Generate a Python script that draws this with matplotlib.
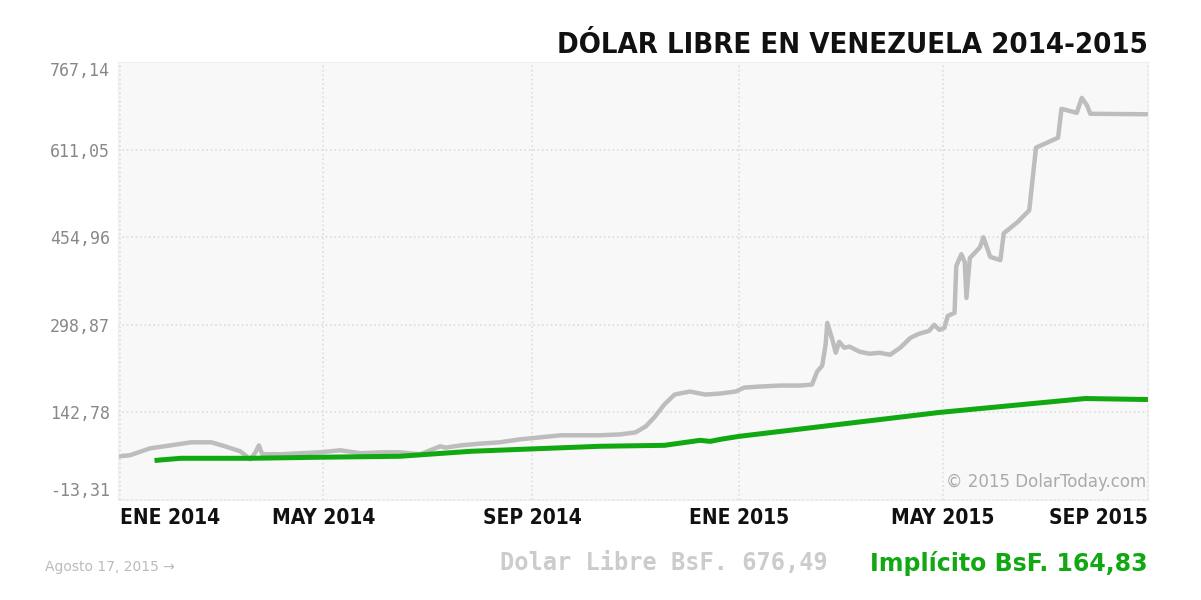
import matplotlib
matplotlib.use("Agg")
import matplotlib.pyplot as plt

# days since 2014-01-01
libre_days = [0,6,18,30,42,54,62,71,77,80,82,84,95,118,130,142,154,165,177,189,192,201,212,224,236,248,260,271,283,295,304,310,315,321,327,336,345,354,363,368,377,389,401,408,411,414,416,417,420,422,424,427,430,436,442,448,454,460,466,471,477,480,483,486,488,492,493,496,498,499,501,507,509,513,519,521,529,536,540,553,555,564,567,570,572,606]
libre_vals = [64.6,66.4,78.8,84,89.5,89.5,82.4,73.5,59.3,71.7,84,68.2,68.2,71.7,75.3,70,71.7,71.7,68.2,82.4,80,84,87,89.5,94.8,98.4,102,102,102,103.6,107.2,117.8,133.8,156.9,174.6,180,174.6,176.4,180,187,188.8,190.6,190.6,192.4,215.4,226,263.4,302.3,272.2,249.1,268.6,258,260,250.9,247.3,249,245.5,258,275.7,282.8,288.1,298.8,289.9,293.4,314.7,320.1,403.5,424.7,410.5,346.7,417.6,437.1,454.9,420,414.1,462,481.5,502.8,614.5,632.3,683.7,676.6,703.2,690,674.9,674.0]
impl_days = [22,36,77,118,165,207,283,321,342,348,354,365,483,569,606]
impl_vals = [57.5,61,61,62.9,64.6,73.5,82.4,84.1,93,91.2,94.8,100.1,142.7,167.5,165.7]

ytick_vals = [-13.31,142.78,298.87,454.96,611.05,767.14]
ytick_labels = ["-13,31","142,78","298,87","454,96","611,05","767,14"]
xtick_days = [0,120,243,365,485,608]
xtick_labels = ["ENE 2014","MAY 2014","SEP 2014","ENE 2015","MAY 2015","SEP 2015"]

cond = dict(family="DejaVu Sans", fontstretch="condensed", fontweight="bold")

fig = plt.figure(figsize=(12.01,6.0), dpi=100)
ax = fig.add_axes([118/1201, 100/600, 1030/1201, 438/600])
ax.set_facecolor("#f8f8f8")
ax.plot(libre_days, libre_vals, color="#bdbdbd", lw=3.2, solid_joinstyle="round")
ax.plot(impl_days, impl_vals, color="#11a811", lw=3.6)
ax.set_xlim(-1, 606)
ax.set_ylim(-13.31, 767.14)
ax.set_yticks(ytick_vals)
ax.set_yticklabels(ytick_labels, family="DejaVu Sans Mono", color="#888888", fontsize=12)
ax.get_yticklabels()[-1].set_va("top")
ax.get_yticklabels()[0].set_va("bottom")
ax.set_xticks(xtick_days[:5] + [606])
ax.set_xticklabels(xtick_labels, fontsize=15, color="#111111", **cond)
ax.get_xticklabels()[0].set_ha("left")
ax.get_xticklabels()[-1].set_ha("right")
ax.tick_params(length=0, pad=6)
ax.grid(True, color="#dddddd", ls=":", lw=1.2)
ax.set_axisbelow(True)
for s in ax.spines.values():
    s.set_color("#eeeeee")
ax.text(0.998, 0.02, "© 2015 DolarToday.com", transform=ax.transAxes, ha="right", va="bottom",
        color="#aaaaaa", fontsize=12)
fig.text(1148/1201, 1-45/600, "DÓLAR LIBRE EN VENEZUELA 2014-2015", ha="right", va="center",
         fontsize=21, color="#111111", **cond)
fig.text(45/1201, 1-567/600, "Agosto 17, 2015 →", ha="left", va="center", fontsize=10, color="#bbbbbb")
fig.text(828/1201, 1-563/600, "Dolar Libre BsF. 676,49", ha="right", va="center", fontsize=17,
         fontweight="bold", color="#cccccc", family="DejaVu Sans Mono")
fig.text(1148/1201, 1-563/600, "Implícito BsF. 164,83", ha="right", va="center", fontsize=17,
         fontweight="bold", color="#11a811")
fig.savefig("out.png", dpi=100, facecolor="white")
